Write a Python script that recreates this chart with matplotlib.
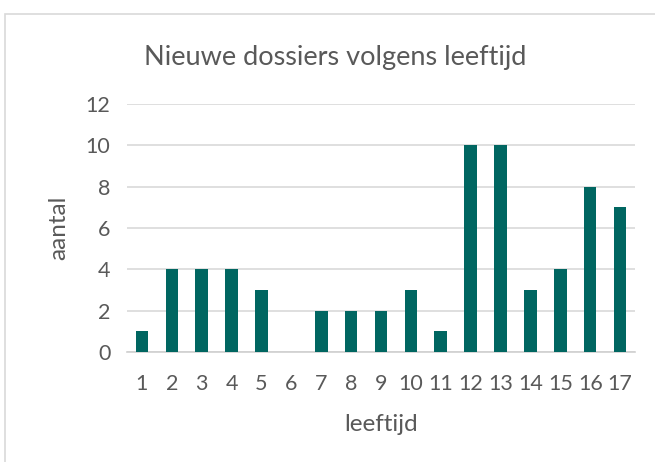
import matplotlib
matplotlib.use("Agg")
import matplotlib.pyplot as plt
from matplotlib.patches import Rectangle

# leeftijden en aantallen nieuwe dossiers
leeftijd = [str(i) for i in range(1, 18)]
aantal = [1, 4, 4, 4, 3, 0, 2, 2, 2, 3, 1, 10, 10, 3, 4, 8, 7]
y_ticks = [0, 2, 4, 6, 8, 10, 12]

plt.rcParams['font.family'] = ['Lato', 'DejaVu Sans']
tekst = '#595959'

fig = plt.figure(figsize=(6.55, 4.62), dpi=100)
# kader van de grafiek (loopt rechts en onder buiten beeld)
fig.patches.append(Rectangle((5 / 655, -0.1), 1.0, 1 - 14 / 462 + 0.1,
                             transform=fig.transFigure, fill=False,
                             edgecolor='#d9d9d9', linewidth=1.2))

ax = fig.add_axes([127 / 655, 1 - 352 / 462, 508 / 655, 248 / 462])
x = range(len(leeftijd))
ax.bar(x, aantal, width=0.42, color='#006661', zorder=3)

ax.set_xlim(-0.5, len(leeftijd) - 0.5)
ax.set_ylim(0, 12)
ax.set_yticks(y_ticks)
ax.set_xticks(list(x))
ax.set_xticklabels(leeftijd)
ax.grid(axis='y', color='#d9d9d9', linewidth=1.2, zorder=0)
for s in ['top', 'right', 'left']:
    ax.spines[s].set_visible(False)
ax.spines['bottom'].set_color('#d0d0d0')
ax.spines['bottom'].set_linewidth(1.2)
ax.tick_params(length=0, labelsize=15.5, colors=tekst, pad=16)
ax.tick_params(axis='y', pad=12)

ax.set_xlabel('leeftijd', fontsize=17.5, color=tekst, labelpad=14)
ax.set_ylabel('aantal', fontsize=17.5, color=tekst, labelpad=12)
fig.text(335 / 655, 1 - 57 / 462, 'Nieuwe dossiers volgens leeftijd',
         ha='center', va='center', fontsize=19.5, color=tekst)

fig.savefig('out.png', dpi=100)
